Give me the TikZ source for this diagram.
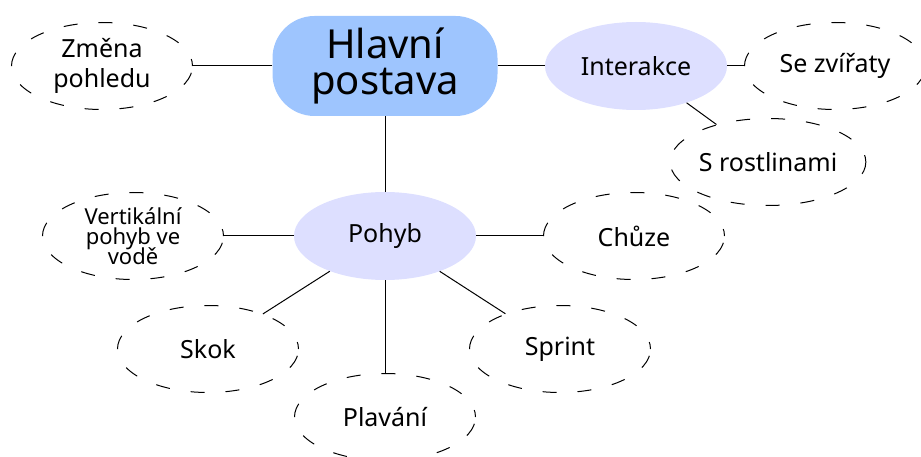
\documentclass[tikz,border=0pt]{standalone}
\usepackage{fontspec}
\setmainfont{Noto Sans}
\usetikzlibrary{shapes.geometric}
\definecolor{hlavnimodra}{RGB}{158,197,254}
\definecolor{temafialova}{RGB}{221,223,255}
\begin{document}
\begin{tikzpicture}[x=1pt,y=-1pt]
        \tikzstyle{hlavni}=[rectangle,rounded corners=42pt,fill=hlavnimodra,minimum width=225pt,minimum height=100pt,align=center,font={\fontsize{40}{36}\selectfont\lineskiplimit=-40pt}]
        \tikzstyle{tema}=[ellipse,fill=temafialova,minimum width=182pt,minimum height=88pt,inner sep=0pt,font=\fontsize{25}{30}\selectfont]
        \tikzstyle{list}=[ellipse,draw=black,line width=1pt,dash pattern=on 14pt off 21pt,dash phase=7pt,minimum width=181pt,minimum height=87pt,inner sep=0pt,align=center,font={\fontsize{25}{30}\selectfont\lineskiplimit=-40pt}]
        \tikzstyle{edge}=[draw,line width=1pt]
        \useasboundingbox (0,0) rectangle (921,457);
        % hlavni uzel a temata
        \node [hlavni] (postava) at (385,66) {Hlavní\\postava};
        \node [tema] (interakce) at (636,66) {Interakce};
        \node [tema] (pohyb) at (385,236) {Pohyb};
        % listy
        \node [list] (zmena) at (102,66) {Změna\\pohledu};
        \node [list] (zvirata) at (835,66) {Se zvířaty};
        \node [list] (rostliny) at (768,162) {S rostlinami};
        \node [list,font={\fontsize{22}{20}\selectfont\lineskiplimit=-40pt}] (vertikal) at (133,236) {Vertikální\\pohyb ve\\vodě};
        \node [list] (chuze) at (634,236) {Chůze};
        \node [list] (skok) at (208,349) {Skok};
        \node [list] (sprint) at (560,349) {Sprint};
        \node [list] (plavani) at (385,417) {Plavání};
        % spojnice
        \path[edge] (postava) edge (zmena);
        \path[edge] (postava) edge (interakce);
        \path[edge] (postava) edge (pohyb);
        \path[edge] (interakce) edge (zvirata);
        \path[edge] (interakce) edge (rostliny);
        \path[edge] (pohyb) edge (vertikal);
        \path[edge] (pohyb) edge (chuze);
        \path[edge] (pohyb) edge (skok);
        \path[edge] (pohyb) edge (sprint);
        \path[edge] (pohyb) edge (plavani);
\end{tikzpicture}
\end{document}
